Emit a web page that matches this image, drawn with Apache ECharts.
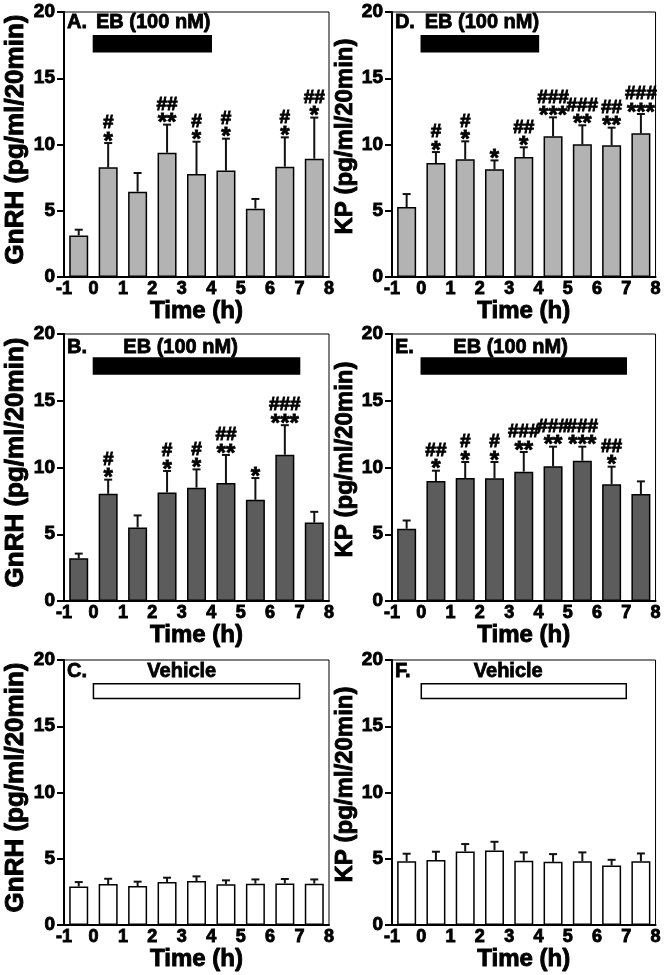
<!DOCTYPE html>
<html><head><meta charset="utf-8">
<script src="https://cdn.jsdelivr.net/npm/echarts@6/dist/echarts.min.js"></script>
<style>html,body{margin:0;padding:0;background:#fff}#c{width:664px;height:975px}</style>
</head><body><div id="c"></div>
<script>
// ---- data ----
const timePoints = [-0.5, 0.5, 1.5, 2.5, 3.5, 4.5, 5.5, 6.5, 7.5];
const xTickLabels = [-1, 0, 1, 2, 3, 4, 5, 6, 7, 8];
const yTickLabels = [0, 5, 10, 15, 20];

// Panel A: GnRH, EB 0-4 h
const gnrhEB4Mean = [3.14, 8.28, 6.44, 9.38, 7.77, 8.03, 5.16, 8.33, 8.93];
const gnrhEB4Sem  = [0.43, 1.83, 1.41, 2.12, 2.44, 2.41, 0.73, 2.21, 3.10];
const gnrhEB4Hash = ["", "#", "", "##", "#", "#", "", "#", "##"];
const gnrhEB4Star = ["", "*", "", "**", "*", "*", "", "*", "*"];
// Panel B: GnRH, EB 0-7 h
const gnrhEB7Mean = [3.20, 8.03, 5.50, 8.13, 8.49, 8.84, 7.58, 10.96, 5.88];
const gnrhEB7Sem  = [0.35, 1.06, 0.91, 1.61, 1.37, 2.10, 1.63, 2.21, 0.80];
const gnrhEB7Hash = ["", "#", "", "#", "#", "##", "", "###", ""];
const gnrhEB7Star = ["", "*", "", "*", "*", "**", "*", "***", ""];
// Panel C: GnRH, vehicle
const gnrhVehMean = [2.91, 3.09, 2.94, 3.24, 3.32, 3.07, 3.12, 3.14, 3.12];
const gnrhVehSem  = [0.33, 0.40, 0.33, 0.33, 0.35, 0.30, 0.32, 0.33, 0.32];
// Panel D: KP, EB 0-4 h
const kpEB4Mean = [5.28, 8.60, 8.88, 8.13, 9.06, 10.62, 10.01, 9.94, 10.84];
const kpEB4Sem  = [0.98, 0.83, 1.36, 0.67, 0.73, 1.43, 1.44, 1.33, 1.46];
const kpEB4Hash = ["", "#", "#", "", "##", "###", "###", "##", "###"];
const kpEB4Star = ["", "*", "*", "*", "*", "***", "**", "**", "***"];
// Panel E: KP, EB 0-7 h
const kpEB7Mean = [5.41, 8.99, 9.21, 9.19, 9.69, 10.09, 10.51, 8.74, 8.01];
const kpEB7Sem  = [0.62, 0.77, 1.20, 1.22, 1.47, 1.47, 1.05, 1.32, 0.95];
const kpEB7Hash = ["", "##", "#", "#", "###", "###", "###", "##", ""];
const kpEB7Star = ["", "*", "*", "*", "**", "**", "***", "*", ""];
// Panel F: KP, vehicle
const kpVehMean = [4.82, 4.90, 5.55, 5.63, 4.85, 4.77, 4.82, 4.50, 4.82];
const kpVehSem  = [0.56, 0.63, 0.56, 0.65, 0.63, 0.58, 0.66, 0.42, 0.58];
const noMarks = ["", "", "", "", "", "", "", "", ""];

// treatment bars [startHour, endHour, lowY, highY]
const treatEB4 = [0, 4, 17.0, 18.2];
const treatEB7 = [0, 7, 17.0, 18.2];
const treatVeh = [0, 7, 17.1, 18.2];

// panel texts: [letter, treatment label, letterX, labelX, textY]
const textA = ["A.", "EB (100 nM)", -0.9, 2.03, 19.2];
const textB = ["B.", "EB (100 nM)", -0.9, 2.96, 19.0];
const textC = ["C.", "Vehicle", -0.9, 3.0, 19.1];
const textD = ["D.", "EB (100 nM)", -0.9, 2.07, 19.2];
const textE = ["E.", "EB (100 nM)", -0.9, 3.05, 19.0];
const textF = ["F.", "Vehicle", -0.9, 2.97, 19.1];

const yNameGnRH = "GnRH (pg/ml/20min)";
const yNameKP = "KP (pg/ml/20min)";
const xName = "Time (h)";

// ---- styling / layout ----
const FONT = "Liberation Sans, Arial, Helvetica, sans-serif";
const LIGHT = '#b3b3b3', DARK = '#5c5c5c', WHITE = '#ffffff';
const HEAVY = {textBorderColor:'#000', textBorderWidth:0.9};

const panels = [
  {grid:{left:64, top:12, width:265, height:265}, mean:gnrhEB4Mean, sem:gnrhEB4Sem, hash:gnrhEB4Hash, star:gnrhEB4Star, color:LIGHT, treat:treatEB4, treatFill:'#000', text:textA, yName:yNameGnRH, ySize:26, yPad:10},
  {grid:{left:64, top:334, width:265, height:267}, mean:gnrhEB7Mean, sem:gnrhEB7Sem, hash:gnrhEB7Hash, star:gnrhEB7Star, color:DARK, treat:treatEB7, treatFill:'#000', text:textB, yName:yNameGnRH, ySize:26, yPad:10},
  {grid:{left:64, top:660, width:265, height:265}, mean:gnrhVehMean, sem:gnrhVehSem, hash:noMarks, star:noMarks, color:WHITE, treat:treatVeh, treatFill:'#fff', text:textC, yName:yNameGnRH, ySize:26, yPad:10},
  {grid:{left:392, top:12, width:264, height:265}, mean:kpEB4Mean, sem:kpEB4Sem, hash:kpEB4Hash, star:kpEB4Star, color:LIGHT, treat:treatEB4, treatFill:'#000', text:textD, yName:yNameKP, ySize:24, yPad:16},
  {grid:{left:392, top:334, width:264, height:267}, mean:kpEB7Mean, sem:kpEB7Sem, hash:kpEB7Hash, star:kpEB7Star, color:DARK, treat:treatEB7, treatFill:'#000', text:textE, yName:yNameKP, ySize:24, yPad:16},
  {grid:{left:392, top:660, width:264, height:265}, mean:kpVehMean, sem:kpVehSem, hash:noMarks, star:noMarks, color:WHITE, treat:treatVeh, treatFill:'#fff', text:textF, yName:yNameKP, ySize:24, yPad:16}
];

const grids = [], xAxes = [], yAxes = [], series = [];
panels.forEach((p, i) => {
  grids.push(Object.assign({show:true, borderColor:'#000', borderWidth:1, backgroundColor:'transparent'}, p.grid));
  xAxes.push({
    type:'value', gridIndex:i, min:xTickLabels[0], max:xTickLabels[xTickLabels.length-1], interval:1,
    axisLine:{show:true, onZero:false, lineStyle:{color:'#000', width:2}},
    axisTick:{show:false}, splitLine:{show:false},
    axisLabel:Object.assign({color:'#000', fontFamily:FONT, fontWeight:'bold', fontSize:18, margin:3,
      formatter: v => xTickLabels.includes(v) ? String(v) : ''}, HEAVY),
    name:xName, nameLocation:'middle', nameGap:19,
    nameTextStyle:Object.assign({color:'#000', fontFamily:FONT, fontWeight:'bold', fontSize:24}, HEAVY)
  });
  yAxes.push({
    type:'value', gridIndex:i, min:yTickLabels[0], max:yTickLabels[yTickLabels.length-1], interval:5,
    axisLine:{show:true, onZero:false, lineStyle:{color:'#000', width:2}},
    axisTick:{show:true, length:7, lineStyle:{color:'#000', width:2}},
    splitLine:{show:false},
    axisLabel:Object.assign({color:'#000', fontFamily:FONT, fontWeight:'bold', fontSize:19, margin:9}, HEAVY),
    name:p.yName, nameLocation:'middle', nameGap:33,
    nameTextStyle:Object.assign({color:'#000', fontFamily:FONT, fontWeight:'bold', fontSize:p.ySize, padding:[0,0,0,p.yPad]}, HEAVY)
  });
  // bars
  series.push({
    type:'bar', xAxisIndex:i, yAxisIndex:i, barWidth:19, z:2,
    data: timePoints.map((t, k) => [t, p.mean[k]]),
    itemStyle:{color:p.color, borderColor:'#000', borderWidth:1.5},
    markArea:{silent:true, z:1,
      itemStyle:{color:p.treatFill, borderColor:'#000', borderWidth:1.5, opacity:1},
      data:[[{xAxis:p.treat[0], yAxis:p.treat[2]}, {xAxis:p.treat[1], yAxis:p.treat[3]}]]}
  });
  // error bars + significance marks
  series.push({
    type:'custom', xAxisIndex:i, yAxisIndex:i, z:3,
    data: timePoints.map((t, k) => [t, p.mean[k], p.sem[k]]),
    renderItem: (params, api) => {
      const k = params.dataIndex;
      const x = api.value(0), m = api.value(1), e = api.value(2);
      const p0 = api.coord([x, m]), p1 = api.coord([x, m + e]);
      const ch = [
        {type:'line', shape:{x1:p0[0], y1:p0[1], x2:p1[0], y2:p1[1]}, style:{stroke:'#111', lineWidth:2}},
        {type:'line', shape:{x1:p1[0]-4, y1:p1[1], x2:p1[0]+4, y2:p1[1]}, style:{stroke:'#111', lineWidth:2}}
      ];
      if (p.star[k]) ch.push({type:'text', style:{text:p.star[k], x:p1[0], y:p1[1]-1, align:'center', verticalAlign:'middle', fill:'#000', stroke:'#000', lineWidth:0.8, fontFamily:FONT, fontWeight:'bold', fontSize:24}});
      if (p.hash[k]) ch.push({type:'text', style:{text:p.hash[k], x:p1[0], y:p1[1]-20, align:'center', verticalAlign:'middle', fill:'#000', stroke:'#000', lineWidth:0.9, fontFamily:FONT, fontWeight:'bold', fontSize:19}});
      return {type:'group', children:ch};
    }
  });
  // panel letter + treatment label
  series.push({
    type:'custom', xAxisIndex:i, yAxisIndex:i, z:4,
    data: [[p.text[2], p.text[4]], [p.text[3], p.text[4]]],
    renderItem: (params, api) => {
      const c = api.coord([api.value(0), api.value(1)]);
      const isLetter = params.dataIndex === 0;
      return {type:'text', style:{text: isLetter ? p.text[0] : p.text[1], x:c[0], y:c[1],
        align: isLetter ? 'left' : 'center', verticalAlign:'middle', fill:'#000', stroke:'#000', lineWidth:0.8,
        fontFamily:FONT, fontWeight:'bold', fontSize:20}};
    }
  });
});

const chart = echarts.init(document.getElementById('c'), null, {renderer:'canvas'});
chart.setOption({animation:false, backgroundColor:'#fff', textStyle:{fontFamily:FONT, fontWeight:'bold'},
  grid:grids, xAxis:xAxes, yAxis:yAxes, series:series});
</script></body></html>
